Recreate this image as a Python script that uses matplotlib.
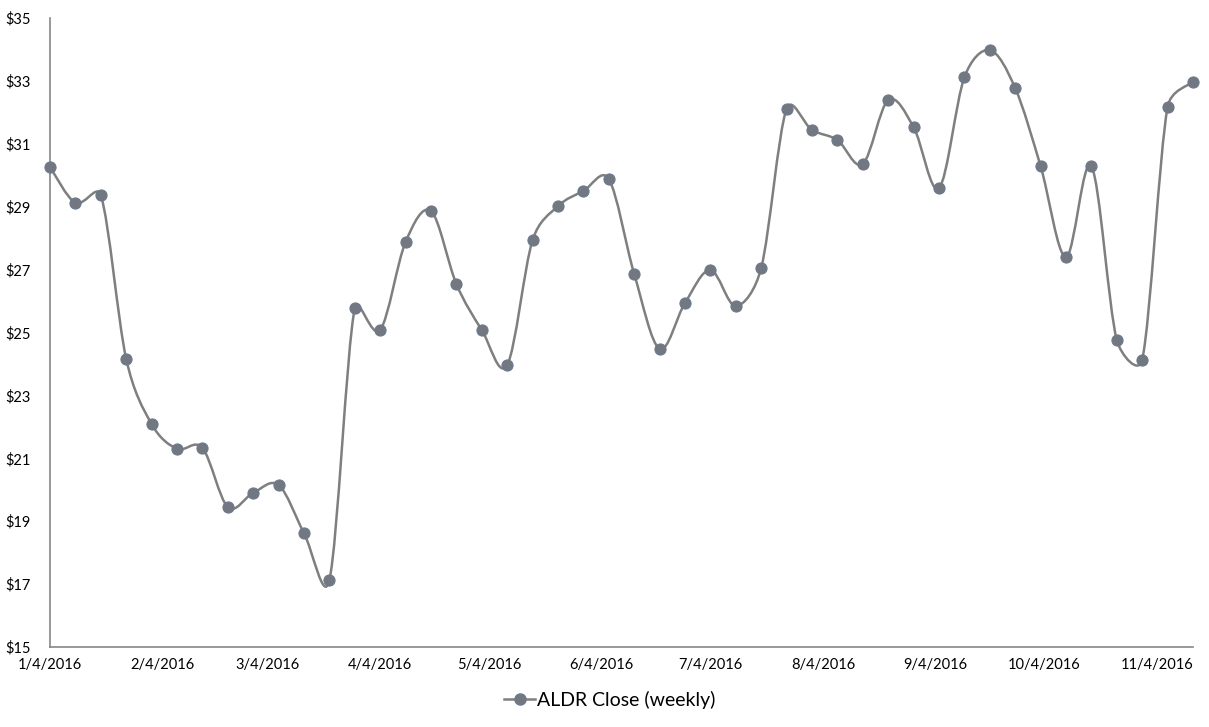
import numpy as np
import pandas as pd
import matplotlib
matplotlib.use("Agg")
import matplotlib.pyplot as plt
import matplotlib.dates as mdates
from matplotlib.path import Path
from matplotlib.patches import PathPatch
from matplotlib.lines import Line2D
from matplotlib.ticker import FuncFormatter

plt.rcParams["font.family"] = ["Lato", "DejaVu Sans"]

# weekly closes, Jan 4 2016 onwards
dates = pd.date_range("2016-01-04", periods=46, freq="7D")
close = [30.26, 29.12, 29.37, 24.16, 22.09, 21.30, 21.33, 19.45, 19.90, 20.15,
         18.62, 17.13, 25.78, 25.08, 27.88, 28.86, 26.54, 25.08, 23.97, 27.94,
         29.02, 29.50, 29.88, 26.86, 24.48, 25.94, 26.99, 25.84, 27.05, 32.11,
         31.44, 31.12, 30.36, 32.39, 31.53, 29.59, 33.12, 33.98, 32.77, 30.29,
         27.40, 30.29, 24.76, 24.13, 32.17, 32.97]
tick_dates = pd.date_range("2016-01-01", periods=11, freq="MS") + pd.Timedelta(days=3)

line_color = "#7f7f7f"
marker_color = "#737780"

fig = plt.figure(figsize=(12.09, 7.27), dpi=100)
ax = fig.add_axes([50 / 1209, 1 - 647 / 727, 1143 / 1209, 629 / 727])

ax.set_yticks(np.arange(15, 36, 2))
ax.yaxis.set_major_formatter(FuncFormatter(lambda v, p: f"${v:.0f}"))
ax.plot(dates, close, ls="none", marker="o", ms=8, mfc=marker_color,
        mec="#6b7a90", mew=0.8, zorder=3, clip_on=False)
ax.set_xticks(tick_dates)
ax.set_xticklabels([f"{d.month}/{d.day}/{d.year}" for d in tick_dates])
ax.set_xlim(dates[0], dates[-1])
ax.set_ylim(15, 35)

# Excel-like smoothed line: cubic Bezier, control arms limited in screen space
x = mdates.date2num(dates)
y = np.array(close)
sx = 1143 / (x[-1] - x[0])
sy = 629 / 20.0
pts = np.column_stack([x * sx, y * sy])
n = len(pts)
verts = [tuple(pts[0])]
codes = [Path.MOVETO]
for i in range(n - 1):
    p0 = pts[max(i - 1, 0)]
    p1 = pts[i]
    p2 = pts[i + 1]
    p3 = pts[min(i + 2, n - 1)]
    d12 = np.hypot(*(p2 - p1))
    d02 = np.hypot(*(p2 - p0))
    d13 = np.hypot(*(p3 - p1))
    f1 = min(1 / 6, d12 / (2 * d02)) if d02 > 0 else 0
    f2 = min(1 / 6, d12 / (2 * d13)) if d13 > 0 else 0
    c1 = p1 + (p2 - p0) * f1
    c2 = p2 - (p3 - p1) * f2
    verts += [tuple(c1), tuple(c2), tuple(p2)]
    codes += [Path.CURVE4] * 3
verts = [(vx / sx, vy / sy) for vx, vy in verts]
ax.add_patch(PathPatch(Path(verts, codes), fill=False, edgecolor=line_color,
                       lw=1.8, zorder=2))

ax.tick_params(length=0, labelsize=10.5, colors="#000000", pad=8)
ax.tick_params(axis="y", pad=14)

for s in ["top", "right"]:
    ax.spines[s].set_visible(False)
for s in ["left", "bottom"]:
    ax.spines[s].set_color("#868686")
    ax.spines[s].set_linewidth(1.2)

handle = Line2D([], [], color=line_color, lw=1.8, marker="o", ms=8,
                mfc=marker_color, mec="#6b7a90")
fig.legend([handle], ["ALDR Close (weekly)"], loc="center",
           bbox_to_anchor=(610 / 1209, 1 - 700 / 727), frameon=False,
           fontsize=14, handlelength=1.6, handletextpad=0.1)

fig.savefig("out.png", dpi=100)
